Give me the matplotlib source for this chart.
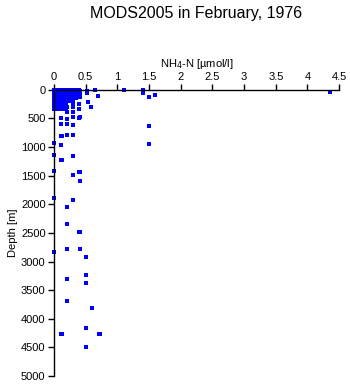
import matplotlib
matplotlib.use("Agg")
import matplotlib.pyplot as plt

plt.rcParams['font.family'] = ['Liberation Sans', 'DejaVu Sans']

# NH4-N [umol/l] and depth [m] of each sample
nh4 = [
    # upper water column, 0-300 m
    0.00, 0.03, 0.05, 0.08, 0.10, 0.13, 0.16, 0.19, 0.22, 0.25, 0.28, 0.31, 0.35, 0.40,
    0.00, 0.02, 0.05, 0.07, 0.10, 0.12, 0.15, 0.18, 0.21, 0.24, 0.27, 0.30, 0.33, 0.41,
    0.00, 0.03, 0.06, 0.09, 0.11, 0.14, 0.17, 0.20, 0.23, 0.26, 0.30, 0.34, 0.37,
    0.00, 0.02, 0.04, 0.07, 0.10, 0.13, 0.16, 0.19, 0.22, 0.26, 0.29, 0.32, 0.41,
    0.00, 0.03, 0.05, 0.08, 0.11, 0.14, 0.17, 0.20, 0.24, 0.27, 0.31, 0.36,
    0.00, 0.02, 0.05, 0.08, 0.10, 0.13, 0.16, 0.20, 0.23, 0.28, 0.30, 0.41,
    0.00, 0.03, 0.06, 0.09, 0.12, 0.15, 0.18, 0.21, 0.25, 0.30, 0.35,
    0.00, 0.02, 0.05, 0.08, 0.11, 0.14, 0.17, 0.21, 0.26, 0.30,
    0.00, 0.03, 0.06, 0.09, 0.12, 0.15, 0.19, 0.30, 0.40,
    0.00, 0.02, 0.05, 0.08, 0.11, 0.14, 0.18, 0.21, 0.30,
    0.00, 0.04, 0.08, 0.11, 0.15, 0.19, 0.40,
    # scattered high values near the surface
    0.53, 0.65, 0.69, 0.70, 0.52, 0.58, 0.54, 1.11, 1.40, 1.41, 1.50, 1.60, 4.36,
    # intermediate and deep samples
    0.30, 0.20, 0.30, 0.11, 0.21, 0.30, 0.40, 0.41, 0.11, 0.21, 0.30, 1.50,
    0.11, 0.13, 0.21, 0.30, 0.00, 0.11, 0.00, 0.11, 0.13, 0.30, 0.00, 0.41, 0.40,
    0.30, 0.41, 0.00, 0.30, 0.21, 1.50,
    0.21, 0.21, 0.41, 0.40, 0.00, 0.21, 0.41, 0.51, 0.51, 0.21, 0.51, 0.21,
    0.60, 0.51, 0.11, 0.13, 0.71, 0.73, 0.51,
]

depth = [
    0, 0, 0, 0, 0, 0, 0, 0, 0, 0, 0, 0, 0, 0,
    20, 20, 20, 20, 20, 20, 20, 20, 20, 20, 20, 20, 20, 20,
    50, 50, 50, 50, 50, 50, 50, 50, 50, 50, 50, 50, 50,
    75, 75, 75, 75, 75, 75, 75, 75, 75, 75, 75, 75, 75,
    100, 100, 100, 100, 100, 100, 100, 100, 100, 100, 100, 100,
    125, 125, 125, 125, 125, 125, 125, 125, 125, 125, 125, 125,
    150, 150, 150, 150, 150, 150, 150, 150, 150, 150, 150,
    200, 200, 200, 200, 200, 200, 200, 200, 200, 200,
    250, 250, 250, 250, 250, 250, 250, 250, 250,
    300, 300, 300, 300, 300, 300, 300, 300, 300,
    330, 330, 330, 330, 330, 330, 330,
    23, 0, 100, 105, 58, 302, 210, 5, 0, 58, 128, 90, 40,
    390, 390, 390, 495, 507, 477, 484, 470, 600, 600, 612, 624,
    799, 799, 793, 781, 933, 968, 1143, 1218, 1218, 1154, 1410, 1440, 1440,
    1492, 1597, 1882, 1918, 2050, 948,
    2348, 2348, 2488, 2488, 2832, 2785, 2785, 2925, 3240, 3310, 3380, 3694,
    3817, 4166, 4260, 4260, 4260, 4260, 4500,
]

x_ticks = [0, 0.5, 1, 1.5, 2, 2.5, 3, 3.5, 4, 4.5]
x_tick_labels = ['0', '0.5', '1', '1.5', '2', '2.5', '3', '3.5', '4', '4.5']
y_ticks = [0, 500, 1000, 1500, 2000, 2500, 3000, 3500, 4000, 4500, 5000]

fig = plt.figure(figsize=(3.5, 3.84), dpi=100)
ax = fig.add_axes([0.154, 0.021, 0.815, 0.745])

ax.plot(nh4, depth, linestyle='none', marker='s', markersize=2.2,
        markeredgewidth=0, color='#0000ff', clip_on=False, antialiased=False)

ax.set_xlim(0, 4.5)
ax.set_ylim(5000, 0)
ax.set_xticks(x_ticks)
ax.set_xticklabels(x_tick_labels)
ax.set_yticks(y_ticks)

ax.xaxis.tick_top()
ax.xaxis.set_label_position('top')
ax.spines['right'].set_visible(False)
ax.spines['bottom'].set_visible(False)
ax.spines['top'].set_linewidth(1.0)
ax.spines['left'].set_linewidth(1.0)
ax.tick_params(axis='both', direction='out', length=4, width=1.0,
               labelsize=8, pad=2)

ax.set_xlabel('NH$_4$-N [\u00b5mol/l]', fontsize=8, labelpad=3)
ax.set_ylabel('Depth [m]', fontsize=8, labelpad=2)
fig.suptitle('MODS2005 in February, 1976', x=0.561, y=0.985, fontsize=11.5)

fig.savefig('out.png', dpi=100)
